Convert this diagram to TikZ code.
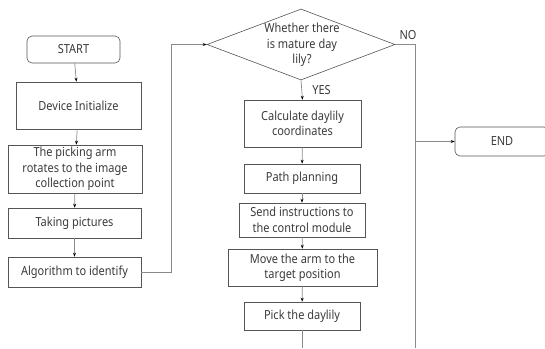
\documentclass[tikz,border=0pt]{standalone}
\usepackage{fontspec}
\setmainfont{Noto Sans}[FakeStretch=0.88]
\usepackage{tikz}
\usetikzlibrary{shapes.geometric,arrows.meta}
\definecolor{boxline}{HTML}{555555}
\definecolor{wire}{HTML}{8A8A8A}
\definecolor{ink}{HTML}{3A3A3A}

\begin{document}
\begin{tikzpicture}[x=1pt,y=-1pt,
  every node/.style={font=\fontsize{12.5}{15.5}\selectfont, text=ink},
  box/.style={draw=boxline, line width=0.6pt, align=center, inner sep=0pt},
  term/.style={box, rounded corners=5pt},
  decide/.style={draw=boxline, line width=0.6pt, diamond, inner sep=0pt},
  flow/.style={draw=wire, line width=0.7pt, -{Stealth[length=4pt,width=3pt,color=black]}},
  wireonly/.style={draw=wire, line width=0.7pt}]
\useasboundingbox (0,0) rectangle (545,348);
\clip (0,0) rectangle (545,348);

% Columna izquierda
\node[term, minimum width=93, minimum height=27] (start) at (73.5,49.5) {START};
\node[box, minimum width=125, minimum height=47] (init) at (78.5,105.5) {Device Initialize};
\node[box, minimum width=134, minimum height=48] (arm) at (75,169) {The picking arm\\rotates to the image\\collection point};
\node[box, minimum width=133, minimum height=30] (pics) at (74.5,223) {Taking pictures};
\node[box, minimum width=133, minimum height=30] (algo) at (74.5,272) {Algorithm to identify};

% Decision
\node[decide, minimum width=188, minimum height=71] (mature) at (301,44.5) {};
\node[align=center] (maturetext) at (302,45) {Whether there\\is mature day\\lily?};

% Columna central
\node[box, minimum width=117, minimum height=47] (calc) at (302.5,123.5) {Calculate daylily\\coordinates};
\node[box, minimum width=116, minimum height=29] (plan) at (302,178.5) {Path planning};
\node[box, minimum width=126, minimum height=34] (send) at (302,220) {Send instructions to\\the control module};
\node[box, minimum width=149, minimum height=37] (move) at (302.5,267.5) {Move the arm to the\\target position};
\node[box, minimum width=116, minimum height=28] (pick) at (302,316) {Pick the daylily};

% Fin
\node[term, minimum width=94, minimum height=29] (end) at (502,141.5) {END};

% Puntos auxiliares
\coordinate (turn) at (171,272);
\coordinate (nobend) at (415,44.5);
\coordinate (nojoin) at (415,141.5);
\coordinate (nobottom) at (415,348);
\coordinate (pickbottom) at (302,348);

% Conectores
\draw[flow] (start) -- (init);
\draw[flow] (init) -- (arm);
\draw[flow] (arm) -- (pics);
\draw[flow] (pics) -- (algo);
\draw[flow] (algo.east) -- (turn) |- (mature.west);
\draw[flow] (mature.south) -- (calc.north);
\node (yes) at (321.5,90) {YES};
\draw[flow] (calc) -- (plan);
\draw[flow] (plan) -- (send);
\draw[flow] (send) -- (move);
\draw[flow] (move) -- (pick);
\draw[wireonly] (pick) -- (pickbottom);
\draw[wireonly] (mature.east) -- (nobend) -- (nobottom);
\node (no) at (408,35) {NO};
\draw[flow] (nojoin) -- (end.west);
\end{tikzpicture}
\end{document}
